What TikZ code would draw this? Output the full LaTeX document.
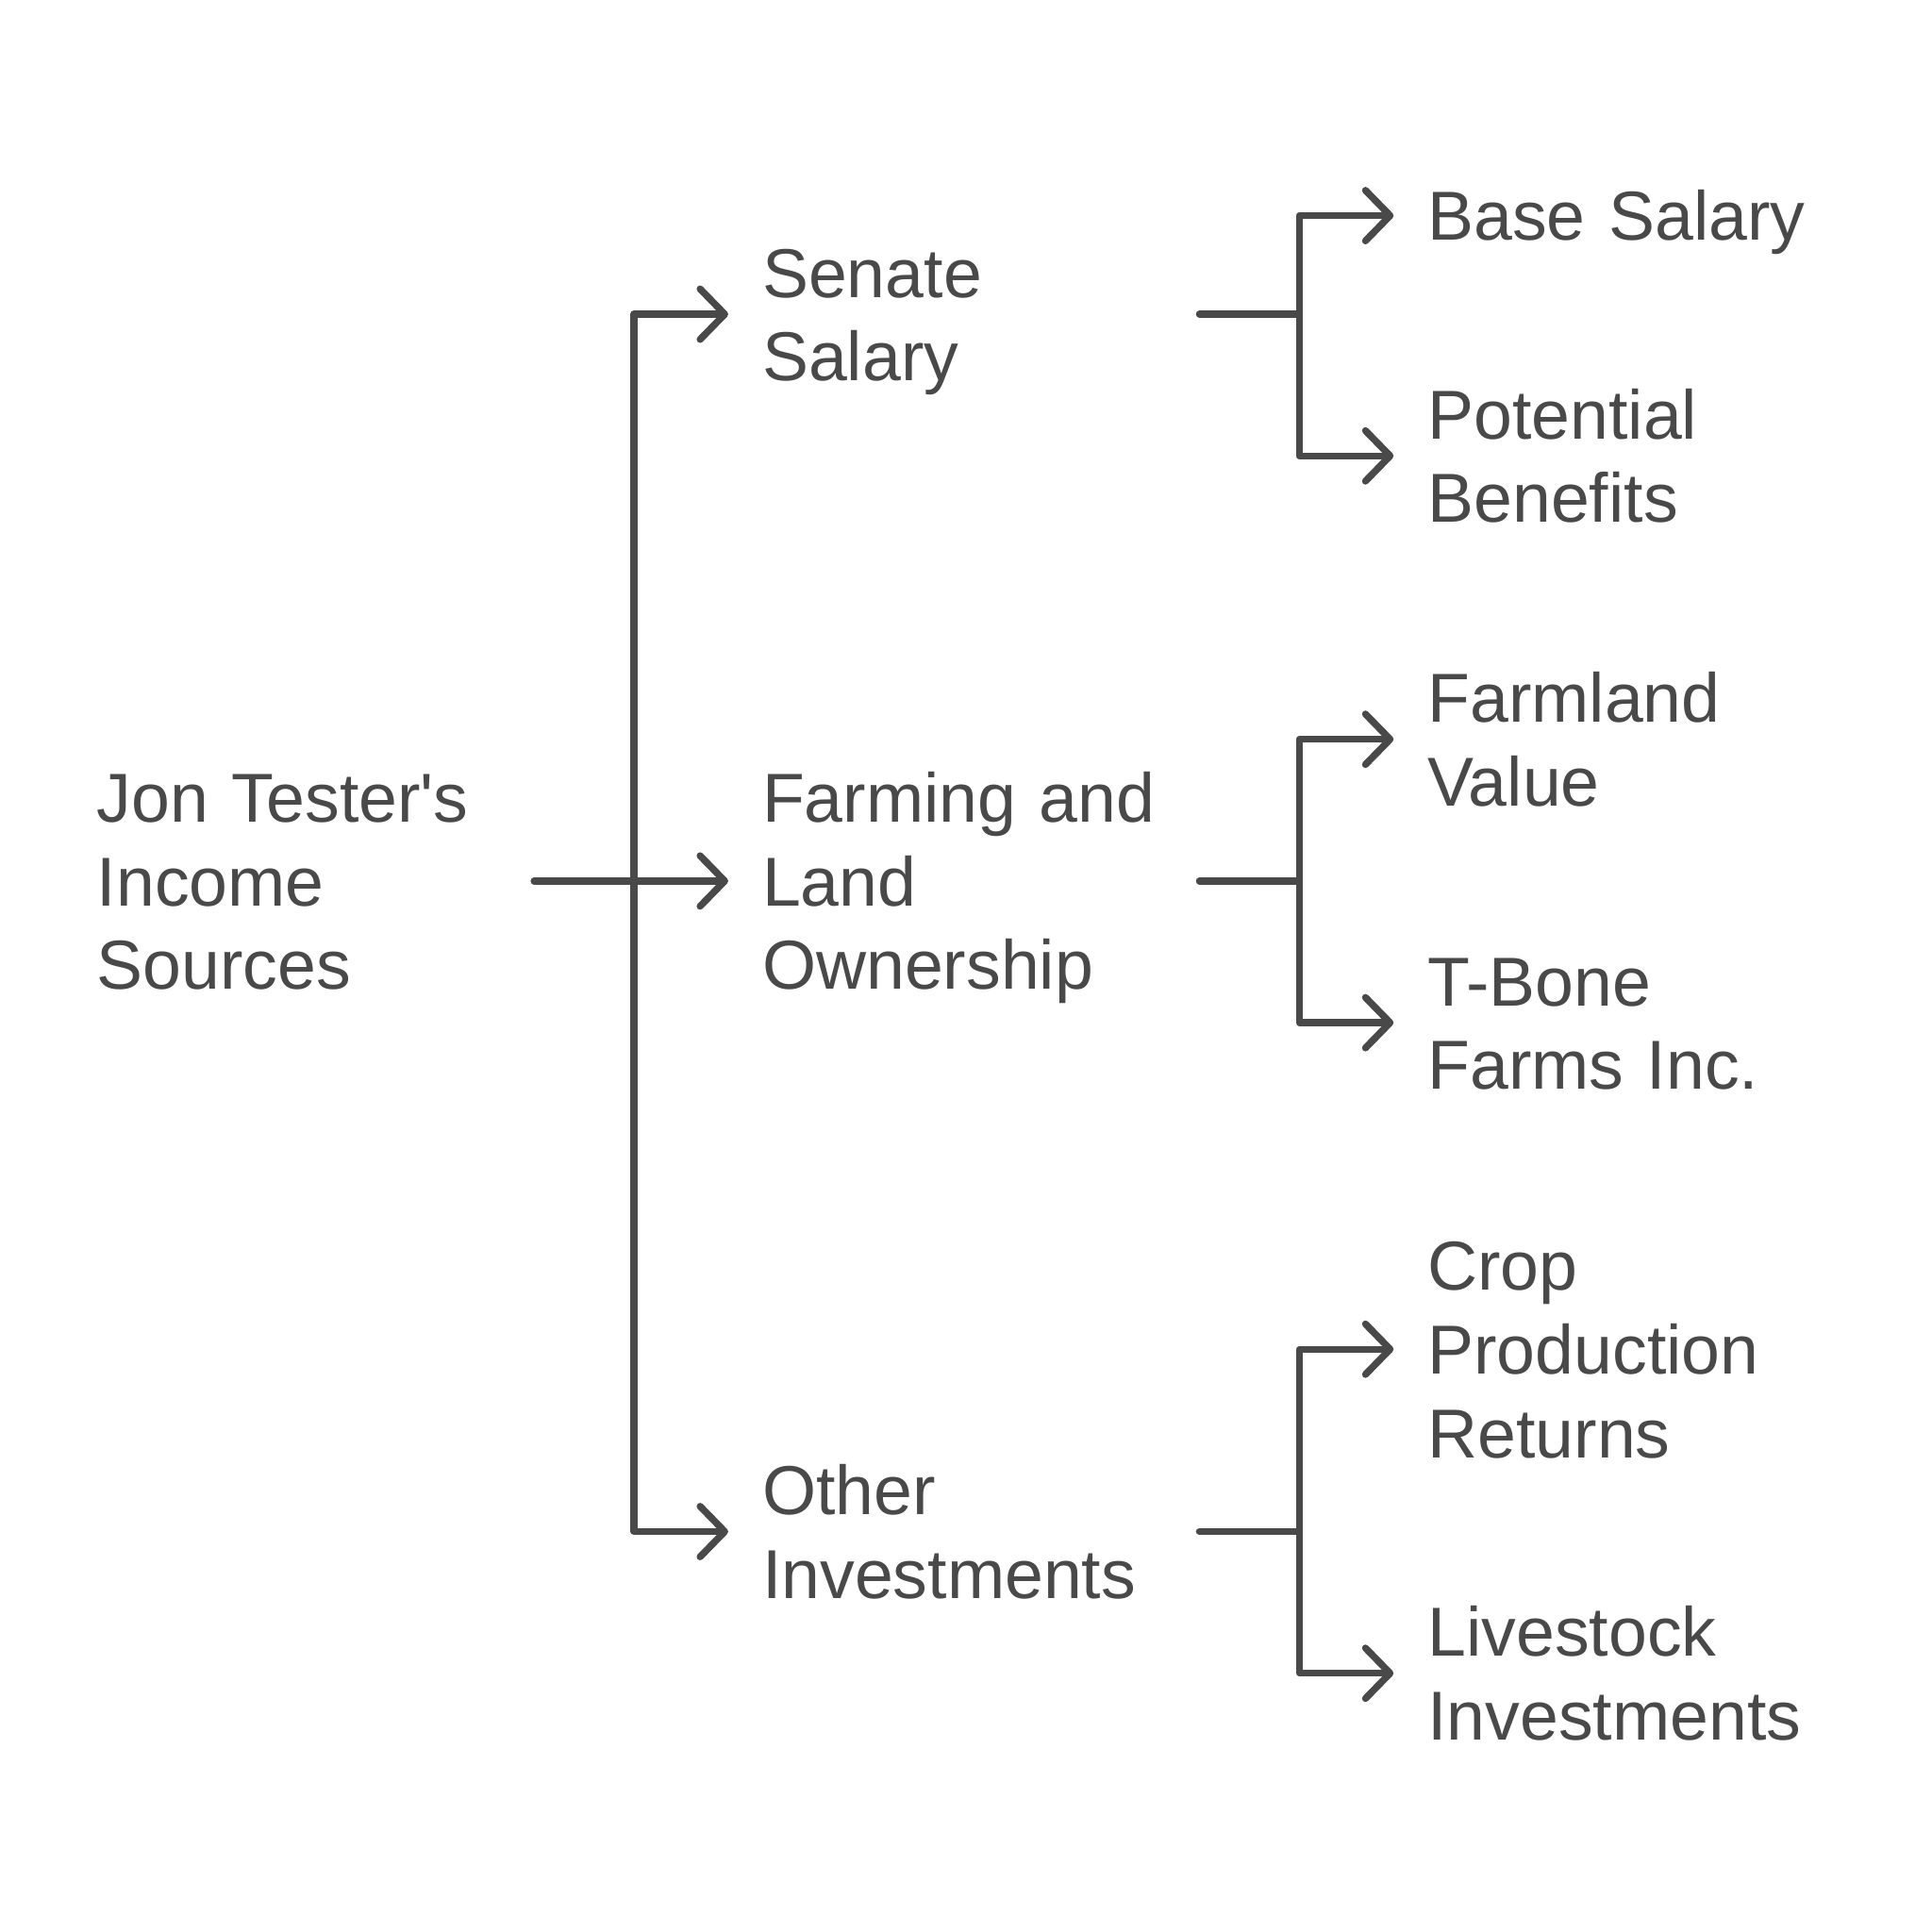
\documentclass[tikz,border=0pt]{standalone}
\usepackage{fontspec}
\setmainfont{Liberation Sans}
\usepackage{tikz}
\usetikzlibrary{arrows.meta}
\usetikzlibrary{positioning}
\definecolor{ink}{HTML}{494949}
\newcommand{\lstrut}{\rule[-3.92pt]{0pt}{19.3pt}}

\begin{document}
\begin{tikzpicture}[item/.style={
			align=left,
			text width=3.54cm,
			inner sep=0pt,
			anchor=west,
			text=ink,
			font=\fontsize{16pt}{19.3pt}\selectfont,
			execute at begin node=\lstrut,
			execute at end node=\lstrut,
		}, link/.style={
			draw=ink,
			line width=1.6pt,
			line join=round,
			line cap=round,
			shorten >=0.27cm,
			-{Straight Barb[length=2mm,width=4.1mm,line cap=round,line join=round]},
		}]
		\useasboundingbox (0,0) rectangle (15.68,-15.68);
		
		\node[item] (root) at (0.78,-7.15) {Jon Tester\textquotesingle s\\Income\\Sources};
		
		\node[item] (senate) at (6.18,-2.55) {Senate\\Salary};
		\node[item] (farm) at (6.18,-7.15) {Farming and\\Land\\Ownership};
		\node[item] (other) at (6.18,-12.43) {Other\\Investments};
		
		\node[item] (base) at (11.58,-1.75) {Base Salary};
		\node[item] (benefits) at (11.58,-3.70) {Potential\\Benefits};
		\node[item] (farmland) at (11.58,-6.00) {Farmland\\Value};
		\node[item] (tbone) at (11.58,-8.30) {T-Bone\\Farms Inc.};
		\node[item] (crop) at (11.58,-10.95) {Crop\\Production\\Returns};
		\node[item] (livestock) at (11.58,-13.58) {Livestock\\Investments};
		
		\draw[link] (root.east) -- (farm.west);
		\draw[link] (root.east) ++(0.81,0) |- (senate.west);
		\draw[link] (root.east) ++(0.81,0) |- (other.west);
		
		\foreach \mid/\up/\down in {senate/base/benefits, farm/farmland/tbone, other/crop/livestock} {
			\draw[link] (\mid.east) -- ++(0.81,0) |- (\up.west);
			\draw[link] (\mid.east) ++(0.81,0) |- (\down.west);
		}
	\end{tikzpicture}
\end{document}
